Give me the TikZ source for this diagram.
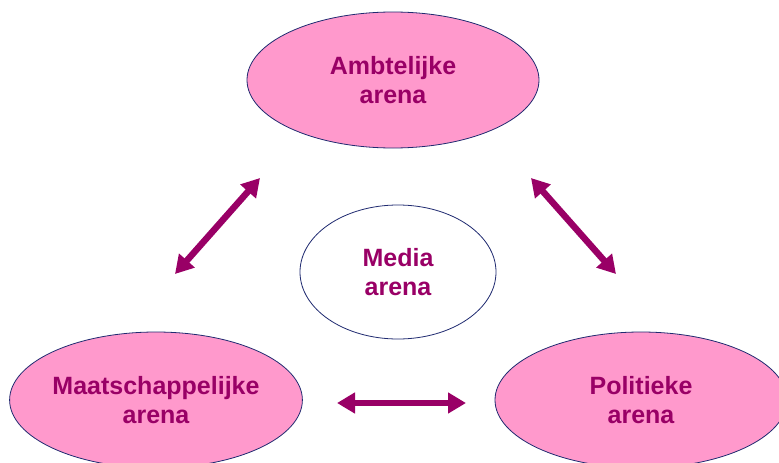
\documentclass[tikz,border=0pt]{standalone}
\usepackage{fontspec}
\setmainfont{Liberation Sans}
\usetikzlibrary{shapes.geometric,arrows.meta}
\definecolor{arenapink}{HTML}{FF99CC}
\definecolor{arenatext}{HTML}{990066}
\definecolor{arenaline}{HTML}{1F2A70}

\begin{document}
\begin{tikzpicture}[x=1pt,y=-1pt,
    arena/.style={ellipse,draw=arenaline,line width=0.8pt,fill=arenapink,inner sep=0pt,
        minimum width=292pt,minimum height=136pt,align=center,text=arenatext,
        font=\bfseries\fontsize{25}{29}\selectfont},
    link/.style={arenatext,line width=6.5pt,{Triangle[width=20pt,length=18pt]}-{Triangle[width=20pt,length=18pt]}}]
                    \useasboundingbox (0,0) rectangle (779,463);
                    \clip (0,0) rectangle (779,463);
                    \path
                    (393,80) node[arena](amb) {Ambtelijke\\arena}
                    (398,272) node[arena,fill=white,minimum width=196pt,minimum height=134pt](media) {Media\\arena}
                    (156,400) node[arena](maat) {Maatschappelijke\\arena}
                    (641,400) node[arena](pol) {Politieke\\arena};

                    \coordinate (ambL) at (260,178);
                    \coordinate (maatT) at (175,274);
                    \coordinate (ambR) at (531,178);
                    \coordinate (polT) at (616,274);
                    \coordinate (maatR) at (337,403);
                    \coordinate (polL) at (466,403);

                    \draw[link] (ambL) -- (maatT);
                    \draw[link] (ambR) -- (polT);
                    \draw[link] (maatR) -- (polL);
                \end{tikzpicture}
\end{document}
